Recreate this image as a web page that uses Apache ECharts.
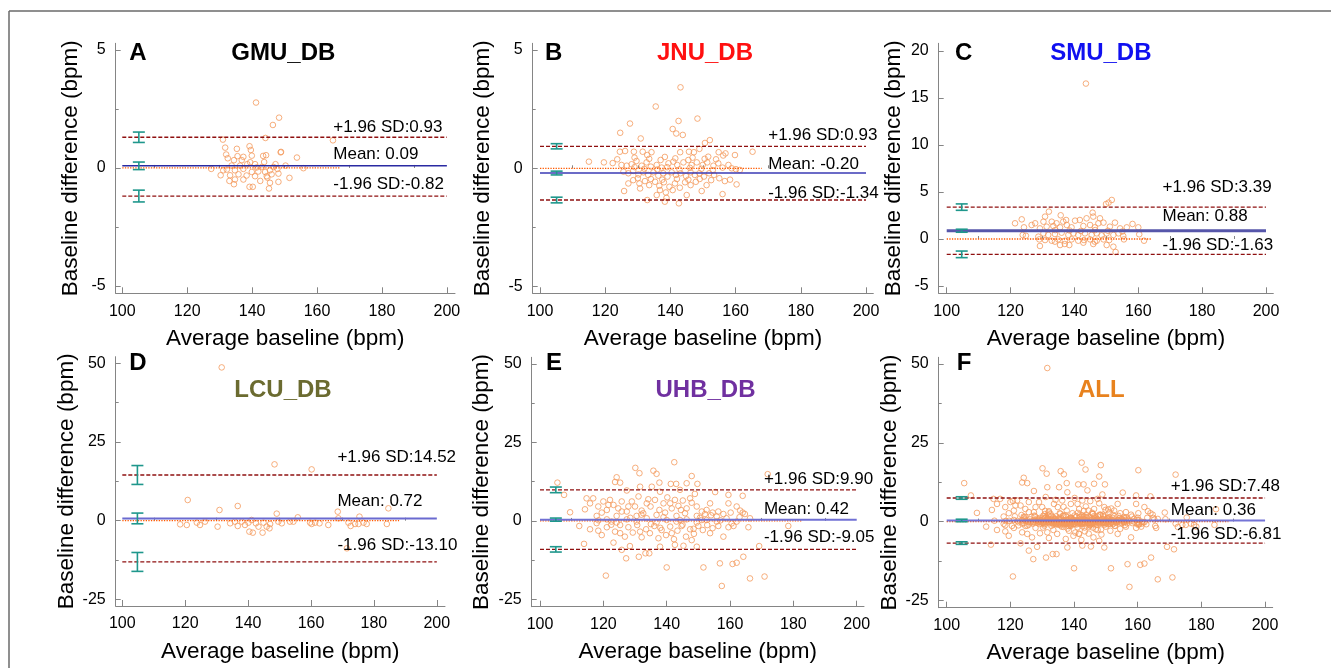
<!DOCTYPE html>
<html>
<head>
<meta charset="utf-8">
<script src="https://cdn.jsdelivr.net/npm/echarts@6/dist/echarts.min.js"></script>
<style>html,body{margin:0;padding:0;background:#fff;}#c{width:1331px;height:668px;}</style>
</head>
<body>
<div id="c"></div>
<script>
// ---------------- DATA ----------------
const panelLetters = ['A','B','C','D','E','F'];
const panelNames = ['GMU_DB','JNU_DB','SMU_DB','LCU_DB','UHB_DB','ALL'];
const upperLoA = [1.30, 0.93, 3.39, 14.52, 9.90, 7.48];
const meanDiff = [0.09, -0.20, 0.88, 0.72, 0.42, 0.36];
const lowerLoA = [-1.19, -1.34, -1.63, -13.10, -9.05, -6.81];
const upperText = ['+1.96 SD:0.93','+1.96 SD:0.93','+1.96 SD:3.39','+1.96 SD:14.52','+1.96 SD:9.90','+1.96 SD:7.48'];
const meanText = ['Mean: 0.09','Mean: -0.20','Mean: 0.88','Mean: 0.72','Mean: 0.42','Mean: 0.36'];
const lowerText = ['-1.96 SD:-0.82','-1.96 SD:-1.34','-1.96 SD:-1.63','-1.96 SD:-13.10','-1.96 SD:-9.05','-1.96 SD:-6.81'];
const ciX = [105.1, 105.1, 104.7, 104.8, 105.0, 104.7];
const upperCI = [0.22, 0.11, 0.34, 3.0, 0.9, 0.4];
const meanCI = [0.16, 0.08, 0.16, 1.7, 0.5, 0.4];
const lowerCI = [0.25, 0.12, 0.35, 3.0, 0.85, 0.4];
const zeroLineEnd = [167, 168, 164, 188, 182.6, 188.5];
const lineStart = 100, lineEnd = 200;
const labelX = [165, 170, 167.6, 168.4, 170.7, 170.4];
const xLabelVals = [100,120,140,160,180,200];
const xMinorVals = [110,130,150,170,190];
const yLabelVals = [[-5,0,5],[-5,0,5],[-5,0,5,10,15,20],[-25,0,25,50],[-25,0,25,50],[-25,0,25,50]];
const yMinorVals = [[-2.5,2.5],[-2.5,2.5],[],[-12.5,12.5,37.5],[-12.5,12.5,37.5],[-12.5,12.5,37.5]];

const gmuPoints = [[141.2,2.77],[148.3,2.13],[146.4,1.82],[131.0,1.20],[144.1,1.27],[164.9,1.17],[131.7,0.86],[135.3,0.81],[139.2,0.92],[139.6,0.76],[132.0,0.57],[132.5,0.41],[135.5,0.50],[137.3,0.47],[134.4,0.33],[139.9,0.52],[143.4,0.51],[144.3,0.54],[148.8,0.66],[148.9,0.68],[153.8,0.44],[143.7,0.25],[147.2,0.16],[138.5,0.16],[139.4,0.24],[150.3,0.10],[127.4,-0.04],[155.8,-0.01],[133.7,0.10],[136.3,0.10],[132.2,-0.07],[134.7,-0.10],[137.3,-0.04],[141.4,0.02],[141.9,-0.15],[145.5,-0.10],[147.8,-0.04],[130.3,-0.31],[133.2,-0.31],[135.8,-0.27],[138.3,-0.32],[140.9,-0.35],[144.5,-0.35],[146.0,-0.27],[148.1,-0.24],[151.5,-0.42],[133.0,-0.55],[134.7,-0.49],[137.3,-0.49],[142.5,-0.55],[144.7,-0.41],[145.5,-0.63],[148.1,-0.59],[134.4,-0.69],[139.2,-0.80],[140.2,-0.80],[145.2,-0.87],[131.1,-0.10],[136.8,0.33],[140.9,0.16],[143.0,0.04],[146.6,0.04],[139.9,-0.17],[144.0,-0.17]];

const jnuPoints = [[143.1,3.42],[135.5,2.61],[127.6,1.89],[148.3,2.10],[142.5,2.00],[124.6,1.50],[140.7,1.66],[141.8,1.47],[143.8,1.41],[130.9,1.26],[152.1,1.19],[150.6,1.07],[165.2,0.70],[159.8,0.56],[156.9,0.63],[124.5,0.70],[126.1,0.73],[128.8,0.70],[131.5,0.70],[134.2,0.68],[132.9,0.56],[138.3,0.48],[143.0,0.68],[145.7,0.70],[147.2,0.68],[148.9,0.82],[151.6,0.49],[154.8,0.68],[156.2,0.54],[115.0,0.28],[119.6,0.25],[122.3,0.22],[123.7,0.38],[125.0,0.14],[126.6,0.11],[128.1,0.17],[129.6,0.31],[131.2,0.11],[132.7,0.25],[134.0,0.07],[135.8,0.14],[137.3,0.03],[139.4,0.21],[140.9,0.28],[142.1,0.14],[144.0,0.25],[145.5,0.35],[146.5,0.14],[148.1,0.25],[149.9,0.14],[151.3,0.25],[153.2,0.11],[154.7,0.21],[156.0,0.03],[157.8,0.14],[158.8,0.00],[161.3,-0.07],[160.1,-0.04],[125.6,-0.14],[127.1,-0.21],[128.6,-0.11],[130.2,-0.26],[131.7,-0.17],[133.2,-0.28],[134.8,-0.17],[136.3,-0.31],[137.8,-0.21],[139.1,-0.35],[140.4,-0.17],[141.7,-0.28],[143.1,-0.21],[144.8,-0.33],[146.2,-0.17],[147.5,-0.28],[148.9,-0.21],[150.3,-0.35],[151.9,-0.21],[153.4,-0.28],[155.0,-0.42],[156.7,-0.54],[158.3,-0.48],[160.3,-0.68],[127.1,-0.64],[128.6,-0.50],[130.5,-0.64],[132.2,-0.54],[133.5,-0.71],[135.3,-0.57],[136.6,-0.74],[138.0,-0.59],[139.7,-0.78],[141.4,-0.64],[142.9,-0.82],[144.5,-0.59],[146.2,-0.71],[147.8,-0.57],[149.6,-0.96],[151.1,-0.71],[125.8,-0.96],[130.7,-0.85],[136.8,-0.92],[138.6,-1.02],[140.7,-0.92],[156.0,-1.09],[132.9,-1.34],[138.3,-1.41],[142.6,-1.48],[135.8,-1.13],[145.0,-1.13],[138.8,-1.25],[129.0,0.45],[133.5,0.40],[137.0,0.35],[141.5,0.42],[146.8,0.45],[150.5,0.40],[154.0,0.38],[130.0,-0.42],[134.0,-0.45],[137.5,-0.48],[142.0,-0.45],[145.5,-0.48],[149.0,-0.45],[152.5,-0.50],[136.0,-0.05],[139.0,0.05],[142.8,-0.05],[146.0,0.02],[149.5,-0.02],[153.0,-0.08],[129.0,0.05],[132.0,-0.02]];

const smuPoints = [[143.6,16.52],[151.7,4.15],[149.9,3.72],[150.7,3.87],[121.4,1.67],[123.5,2.09],[132.0,2.91],[130.8,2.38],[135.7,2.52],[145.7,2.80],[143.8,2.20],[124.2,1.24],[126.6,1.49],[127.7,1.67],[130.3,1.84],[132.9,1.84],[134.4,1.67],[137.4,2.02],[140.2,1.95],[141.7,2.02],[145.9,2.38],[147.5,1.67],[149.1,1.74],[152.7,1.74],[158.2,1.60],[160.0,1.24],[156.4,1.24],[154.3,1.13],[129.2,1.13],[131.3,1.31],[133.4,1.38],[135.5,1.24],[137.6,1.49],[139.1,1.24],[142.8,1.38],[144.9,1.49],[146.4,1.24],[151.1,1.31],[123.8,0.43],[124.8,0.35],[128.7,0.25],[130.3,0.60],[131.8,0.43],[133.9,0.53],[136.0,0.67],[138.1,0.43],[139.7,0.60],[141.2,0.43],[143.3,0.60],[145.4,0.43],[147.0,0.60],[148.5,0.39],[150.1,0.60],[152.2,0.43],[153.8,0.60],[155.3,0.32],[160.3,0.50],[129.0,-0.04],[130.8,-0.11],[132.9,-0.18],[134.9,-0.04],[137.0,-0.18],[139.1,-0.04],[141.2,-0.18],[143.0,-0.11],[144.9,-0.04],[147.0,-0.18],[149.1,-0.04],[150.9,-0.11],[155.5,-0.04],[161.8,-0.18],[129.2,-0.74],[133.9,-0.28],[135.5,-0.64],[137.0,-0.53],[138.4,-0.64],[142.8,-0.39],[145.9,-0.53],[150.1,-0.64],[152.2,-0.82],[152.9,-1.38],[146.4,-0.28],[134.0,0.95],[138.5,0.90],[142.0,0.85],[146.5,0.95],[150.5,0.88],[155.0,0.80],[136.5,1.85],[148.0,2.20]];

const lcuPoints = [[131.6,48.7],[148.4,17.9],[160.2,16.3],[120.8,6.58],[130.9,3.40],[136.7,4.67],[149.1,2.24],[155.8,1.07],[168.5,2.87],[168.7,0.76],[175.4,1.29],[184.6,3.93],[118.4,-1.15],[120.5,-1.36],[123.7,-0.62],[124.7,-1.36],[126.3,-0.30],[130.3,-1.89],[134.3,-0.83],[135.8,-0.30],[136.7,-1.68],[138.0,-0.30],[139.0,-1.36],[140.1,-0.62],[140.4,-3.48],[141.1,0.23],[141.5,-3.80],[142.5,-0.83],[143.3,-1.89],[144.6,-3.80],[144.9,-0.62],[145.9,-1.89],[146.8,-2.42],[147.0,-1.04],[149.6,-0.30],[150.7,-0.83],[153.3,-0.30],[154.4,-0.30],[159.7,-0.62],[160.2,-1.04],[161.3,-0.62],[162.7,-0.83],[165.5,-1.36],[171.9,-0.62],[172.6,-1.68],[174.0,-1.04],[175.1,-1.04],[176.7,-0.62],[177.7,-1.04],[184.1,-1.04],[171.4,-8.78]];

const uhbPoints = [[142.4,18.7],[130.1,16.9],[131.4,15.2],[135.8,16.0],[136.8,15.0],[124.2,13.9],[123.7,12.4],[125.3,12.2],[137.7,12.2],[141.3,11.8],[143.0,11.8],[146.3,12.0],[147.9,14.3],[149.7,11.8],[171.9,14.9],[105.5,12.2],[107.6,8.3],[127.4,9.7],[131.6,10.9],[135.3,10.9],[137.9,9.3],[144.2,9.9],[148.9,8.6],[155.3,9.2],[159.5,8.3],[164.0,8.0],[109.5,2.76],[114.2,3.7],[114.7,7.2],[115.8,5.6],[116.8,7.2],[118.4,4.6],[120.0,6.2],[121.1,3.5],[122.1,6.7],[123.2,5.1],[124.7,4.0],[125.8,6.2],[127.4,3.0],[129.0,6.2],[130.0,4.6],[131.1,7.8],[132.1,3.3],[133.7,5.6],[134.9,4.6],[136.3,6.7],[137.7,3.5],[139.0,5.6],[140.2,7.5],[141.6,4.0],[142.6,6.7],[143.7,4.8],[145.1,6.5],[146.3,4.0],[147.9,5.8],[149.5,4.6],[151.1,3.0],[152.6,3.5],[154.5,2.66],[156.3,3.0],[157.9,2.2],[159.5,5.6],[160.2,2.66],[162.1,4.6],[163.2,3.3],[164.0,2.66],[164.7,2.2],[166.3,0.85],[165.8,-2.0],[112.4,-1.6],[115.8,-2.65],[117.9,-0.7],[119.5,-4.5],[121.1,-2.0],[122.6,-0.2],[123.7,-3.4],[125.3,-1.3],[126.8,-5.0],[127.9,-2.0],[129.3,-3.7],[130.7,-1.3],[132.1,-5.2],[133.5,-2.65],[134.7,-3.9],[136.1,-1.6],[137.4,-5.5],[138.4,-2.9],[139.8,-4.5],[141.1,-1.8],[142.3,-5.8],[143.4,-3.1],[144.7,-1.6],[146.1,-5.0],[147.4,-2.65],[148.6,-4.1],[150.0,-1.6],[151.4,-2.9],[152.8,-1.3],[154.5,-2.3],[156.3,-1.6],[157.9,-5.0],[159.5,-2.0],[161.1,-1.6],[113.9,-7.3],[123.2,-6.9],[125.8,-9.2],[127.2,-11.9],[128.4,-8.0],[131.2,-11.4],[133.3,-10.3],[134.5,-10.3],[137.9,-8.2],[140.0,-14.8],[142.6,-7.6],[145.3,-7.9],[149.5,-8.2],[151.6,-14.8],[156.8,-13.5],[160.8,-13.7],[162.1,-13.3],[164.2,-11.4],[169.2,-8.0],[120.8,-17.4],[157.4,-20.7],[166.3,-18.3],[170.9,-17.7],[121.1,0.5],[127.4,0.5],[133.7,0.85],[140.0,0.3],[146.3,0.5],[152.6,0.3],[158.9,0.85],[117.9,1.6],[124.2,1.6],[130.5,1.6],[136.8,1.9],[143.1,1.6],[149.5,1.6],[155.8,1.4],[124.2,-0.5],[130.5,-0.2],[136.8,-0.5],[143.1,-0.2],[149.5,-0.5],[155.8,-0.2],[162.1,-0.2],[119.5,2.66],[125.8,3.0],[132.6,2.45],[139.5,2.66],[145.8,2.45],[152.1,2.2],[121.6,5.1],[127.9,4.6],[134.2,6.9],[141.1,5.6],[147.4,7.2],[153.7,5.6],[118.4,-3.1],[125.3,-3.9],[131.6,-3.4],[141.6,-3.9],[147.9,-6.1],[153.7,-3.9],[151.1,0.3],[144.2,0.3],[178.4,-1.6],[128.5,1.0],[135.0,-1.0],[139.0,1.2],[145.0,-1.2],[150.5,1.0],[157.0,0.2],[163.0,1.2],[118.5,0.2],[122.5,-1.2],[132.0,2.0],[138.0,-2.2],[144.5,3.5],[148.5,-2.5],[154.0,1.8],[160.5,-0.8]];

const allPoints = [].concat(gmuPoints, jnuPoints, smuPoints, lcuPoints, uhbPoints);
const panelPoints = [gmuPoints, jnuPoints, smuPoints, lcuPoints, uhbPoints, allPoints];

// ---------------- LAYOUT / STYLE ----------------
const layouts = [
  {left:115.7, top:43.3, width:339.3, height:250, xMin:97.97, xMax:202.5, yMin:-5.31, yMax:5.28, yGap:33},
  {left:532.7, top:43.3, width:340.6, height:250, xMin:97.76, xMax:202.24, yMin:-5.28, yMax:5.28, yGap:38},
  {left:938.7, top:43.3, width:334.6, height:250, xMin:97.49, xMax:202.29, yMin:-5.77, yMax:20.8, yGap:33},
  {left:115.7, top:356.7, width:329.3, height:249.3, xMin:97.9, xMax:202.6, yMin:-27.1, yMax:52.1, yGap:33},
  {left:531.7, top:357.3, width:332.3, height:249.4, xMin:97.38, xMax:202.3, yMin:-27.3, yMax:52.1, yGap:38},
  {left:938.7, top:357.3, width:334, height:250.4, xMin:97.49, xMax:202.4, yMin:-27.3, yMax:52.1, yGap:33}
];
const labelOffsets = [[10.3,11.3,11.4],[10.7,8.3,7],[20,14,8.6],[18,17,16.7],[10.6,10.7,12],[11.5,10.6,9]];
const meanStyles = [
  {color:'#2a2aa2', width:1.5},{color:'#3a3ab4', width:1.5},{color:'#5656aa', width:3},
  {color:'#6a6ad0', width:2},{color:'#7070d4', width:2},{color:'#7474d6', width:2}
];
const titleColors = ['#000000','#ff1010','#1010f0','#6b6b30','#7030a0','#e8821e'];
const letterPos = [[129.3,53.3],[545,53.3],[955,53.3],[129.3,363.3],[546,363.3],[956.7,363.3]];
const namePos = [[283.3,53.3],[705,53.3],[1100.8,53.3],[283,390],[705.5,390],[1101.3,390]];

const FONT = '"Liberation Sans", Arial, Helvetica, sans-serif';
const AXIS_COLOR = '#858585';
const TEAL = '#1f978c';
const DASH_RED = '#8f1010';

const grids = [], xAxes = [], yAxes = [], series = [], graphics = [];

layouts.forEach((L, i) => {
  grids.push({left:L.left, top:L.top, width:L.width, height:L.height, containLabel:false});
  xAxes.push({
    gridIndex:i, type:'value', min:L.xMin, max:L.xMax,
    name:'Average baseline (bpm)', nameLocation:'middle', nameGap:34,
    nameTextStyle:{fontFamily:FONT, fontSize:22.5, color:'#000'},
    axisLine:{show:true, onZero:false, lineStyle:{color:AXIS_COLOR, width:1}},
    axisTick:{show:true, inside:true, length:6, customValues:xLabelVals, lineStyle:{color:AXIS_COLOR}},
    axisLabel:{show:true, customValues:xLabelVals, margin:10, fontFamily:FONT, fontSize:16, color:'#000'},
    splitLine:{show:false}
  });
  xAxes.push({
    gridIndex:i, type:'value', min:L.xMin, max:L.xMax, position:'bottom',
    axisLine:{show:false},
    axisTick:{show:true, inside:true, length:3, customValues:xMinorVals, lineStyle:{color:AXIS_COLOR}},
    axisLabel:{show:false}, splitLine:{show:false}
  });
  yAxes.push({
    gridIndex:i, type:'value', min:L.yMin, max:L.yMax,
    name:'Baseline difference (bpm)', nameLocation:'middle', nameGap:L.yGap,
    nameTextStyle:{fontFamily:FONT, fontSize:22.5, color:'#000'},
    axisLine:{show:true, onZero:false, lineStyle:{color:AXIS_COLOR, width:1}},
    axisTick:{show:true, inside:true, length:5, customValues:yLabelVals[i], lineStyle:{color:AXIS_COLOR}},
    axisLabel:{show:true, customValues:yLabelVals[i], margin:10, fontFamily:FONT, fontSize:16, color:'#000'},
    splitLine:{show:false}
  });
  yAxes.push({
    gridIndex:i, type:'value', min:L.yMin, max:L.yMax, position:'left',
    axisLine:{show:false},
    axisTick:{show:yMinorVals[i].length > 0, inside:true, length:3, customValues:yMinorVals[i].length ? yMinorVals[i] : [0], lineStyle:{color:AXIS_COLOR}},
    axisLabel:{show:false}, splitLine:{show:false}
  });
  const xi = 2*i, yi = 2*i;

  series.push({
    type:'scatter', xAxisIndex:xi, yAxisIndex:yi, data:panelPoints[i],
    symbol:'circle', symbolSize:5.6, z:2, silent:true,
    itemStyle:{color:'rgba(255,255,255,0)', borderColor:'#f49a5c', borderWidth:1}
  });
  series.push({
    type:'line', xAxisIndex:xi, yAxisIndex:yi, data:[[lineStart,0],[zeroLineEnd[i],0]],
    symbol:'none', z:3, silent:true,
    lineStyle:{color:'#ff5a00', width:1.3, type:[1.3,1.3]}
  });
  [upperLoA[i], lowerLoA[i]].forEach(v => {
    series.push({
      type:'line', xAxisIndex:xi, yAxisIndex:yi, data:[[lineStart,v],[lineEnd,v]],
      symbol:'none', z:3, silent:true,
      lineStyle:{color:DASH_RED, width:1.3, type:[4,2]}
    });
  });
  series.push({
    type:'line', xAxisIndex:xi, yAxisIndex:yi, data:[[lineStart,meanDiff[i]],[lineEnd,meanDiff[i]]],
    symbol:'none', z:3, silent:true,
    lineStyle:{color:meanStyles[i].color, width:meanStyles[i].width, type:'solid'}
  });
  series.push({
    type:'custom', xAxisIndex:xi, yAxisIndex:yi, z:4, silent:true, clip:false,
    data:[[ciX[i], upperLoA[i], upperCI[i]],[ciX[i], meanDiff[i], meanCI[i]],[ciX[i], lowerLoA[i], lowerCI[i]]],
    renderItem:function(params, api){
      const x = api.value(0), c = api.value(1), h = api.value(2);
      const t = api.coord([x, c + h]), b = api.coord([x, c - h]);
      const cap = 6, st = {stroke:TEAL, lineWidth:1.6};
      return {type:'group', children:[
        {type:'line', shape:{x1:t[0], y1:t[1], x2:b[0], y2:b[1]}, style:st},
        {type:'line', shape:{x1:t[0]-cap, y1:t[1], x2:t[0]+cap, y2:t[1]}, style:st},
        {type:'line', shape:{x1:b[0]-cap, y1:b[1], x2:b[0]+cap, y2:b[1]}, style:st}
      ]};
    }
  });
  const texts = [upperText[i], meanText[i], lowerText[i]];
  const offs = labelOffsets[i];
  series.push({
    type:'custom', xAxisIndex:xi, yAxisIndex:yi, z:5, silent:true, clip:false,
    data:[[labelX[i], upperLoA[i]],[labelX[i], meanDiff[i]],[labelX[i], lowerLoA[i]]],
    renderItem:function(params, api){
      const p = api.coord([api.value(0), api.value(1)]);
      const k = params.dataIndex;
      return {type:'text', x:p[0], y:p[1] - offs[k],
        style:{text:texts[k], fill:'#000', font:'17px ' + FONT, align:'left', verticalAlign:'middle'}};
    }
  });

  graphics.push({type:'text', x:letterPos[i][0], y:letterPos[i][1], z:10,
    style:{text:panelLetters[i], fill:'#000', font:'bold 24px ' + FONT, align:'left', verticalAlign:'middle'}});
  graphics.push({type:'text', x:namePos[i][0], y:namePos[i][1], z:10,
    style:{text:panelNames[i], fill:titleColors[i], font:'bold 24px ' + FONT, align:'center', verticalAlign:'middle'}});
});

graphics.push({type:'line', shape:{x1:9, y1:11, x2:1331, y2:11}, style:{stroke:'#6a6a6a', lineWidth:1.5}});
graphics.push({type:'line', shape:{x1:9, y1:11, x2:9, y2:668}, style:{stroke:'#6a6a6a', lineWidth:1.5}});

const chart = echarts.init(document.getElementById('c'), null, {renderer:'canvas'});
chart.setOption({
  animation:false,
  backgroundColor:'#ffffff',
  grid:grids, xAxis:xAxes, yAxis:yAxes, series:series, graphic:graphics
});
</script>
</body>
</html>
